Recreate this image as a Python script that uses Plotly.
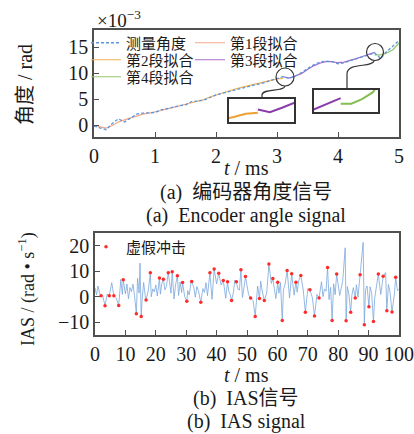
import plotly.graph_objects as go

W, H = 414, 434


def px(x, y):
    return x / W, 1 - y / H


# ---------------- (a) encoder angle (values in 1e-3 rad) ----------------
meas_t = [0.0, 0.1, 0.2, 0.3, 0.4, 0.5, 0.6, 0.7, 0.8, 0.9,
          1.0, 1.1, 1.2, 1.3, 1.4, 1.5, 1.6, 1.7, 1.8, 1.9,
          2.0, 2.1, 2.2, 2.3, 2.4, 2.5, 2.6, 2.7, 2.8, 2.9,
          3.0, 3.1, 3.2, 3.3, 3.4, 3.5, 3.6, 3.7, 3.8, 3.9,
          4.0, 4.1, 4.2, 4.3, 4.4, 4.5, 4.6, 4.7, 4.8, 4.9, 5.0]
meas_v = [-0.2, -0.5, -0.9, 0.3, 1.2, 0.6, 1.3, 2.1, 2.3, 2.3,
          2.4, 2.9, 3.2, 3.5, 3.7, 3.9, 4.5, 4.6, 4.8, 5.3,
          5.8, 6.1, 6.4, 6.7, 7.0, 7.2, 7.5, 7.9, 8.2, 8.6,
          9.0, 9.3, 9.0, 9.4, 10.1, 10.8, 11.6, 12.1, 12.3, 12.2,
          11.8, 12.0, 12.4, 12.7, 13.2, 13.6, 13.9, 12.8, 14.2, 15.2, 16.3]

seg1_t = [0.0, 0.1, 0.2, 0.3, 0.4, 0.5, 0.6, 0.7, 0.8, 0.9, 1.0, 1.1, 1.2, 1.3, 1.4, 1.5, 1.6]
seg1_v = [-0.1, -0.4, -0.6, -0.1, 0.6, 1.0, 1.4, 1.8, 2.1, 2.3, 2.5, 2.8, 3.1, 3.4, 3.7, 3.9, 4.3]
seg2_t = [1.6, 1.7, 1.8, 1.9, 2.0, 2.1, 2.2, 2.3, 2.4, 2.5, 2.6, 2.7, 2.8, 2.9, 3.0, 3.1]
seg2_v = [4.3, 4.6, 4.9, 5.4, 5.8, 6.2, 6.5, 6.9, 7.2, 7.5, 7.8, 8.1, 8.4, 8.6, 8.9, 9.0]
seg3_t = [3.1, 3.2, 3.3, 3.4, 3.5, 3.6, 3.7, 3.8, 3.9, 4.0, 4.1, 4.2, 4.3, 4.4, 4.5, 4.6]
seg3_v = [9.3, 9.05, 9.45, 9.9, 10.7, 11.4, 11.9, 12.2, 12.2, 12.0, 12.1, 12.4, 12.8, 13.2, 13.6, 14.0]
seg4_t = [4.6, 4.7, 4.8, 4.9, 5.0]
seg4_v = [13.5, 13.5, 13.9, 14.5, 15.8]

angle_xticks = [0, 1, 2, 3, 4, 5]
angle_yticks = [0, 5, 10, 15]

# ---------------- (b) IAS signal ----------------
ias_t = [i * 0.5 for i in range(201)]
ias_v = [3.5, 0.8, 4.2, 1.5, 3.0, 0.5, 4.8, 2.2, 1.0, 3.9, 0.2, 5.5, 1.8, 2.6, -0.5, 4.4, 1.2, 6.8, 0.9, 3.3,
         1.1, 5.0, -0.8, 3.6, 2.0, 4.9, 0.4, 2.8, 7.2, 1.5, 4.0, -1.2, 5.6, 0.6, 3.7, 2.2, 5.4, 0.0, 3.1, 1.9,
         4.6, 0.3, 3.8, 1.0, 5.2, -0.4, 2.7, 4.1, 0.8, 6.0, 1.4, 3.5, -0.9, 4.7, 2.1, 0.5, 5.8, 1.6, 3.0, 0.1,
         4.3, 2.4, 0.7, 5.1, 1.3, 3.6, -0.2, 4.0, 2.5, 6.3, 0.9, 3.2, 1.7, 5.5, 0.4, 2.9, 4.4, -1.0, 3.8, 1.2,
         5.0, 2.0, 0.6, 4.6, 1.8, 3.4, -0.6, 5.3, 2.2, 0.8, 4.1, 1.5, 6.5, 0.2, 3.0, 2.6, 4.8, -0.3, 3.5, 1.1,
         4.5, 0.9, 2.8, 5.7, -1.5, 3.3, 1.9, 4.2, 0.5, 6.1, 2.3, 0.0, 4.4, 1.6, 3.9, 0.7, 5.2, 2.0, 3.1, -0.7,
         4.0, 1.4, 5.6, 0.3, 2.9, 4.7, 1.0, 3.6, -0.5, 5.0, 2.4, 0.6, 4.3, 1.8, 6.2, 0.2, 3.4, 2.7, 4.9, 0.4,
         3.2, 1.5, 5.4, -0.4, 2.6, 4.1, 0.9, 3.8, 1.3, 5.9, 0.1, 3.0, 2.2, 4.6, -1.1, 3.7, 1.7, 5.1, 0.8, 2.9,
         4.4, 0.5, 3.3, 6.4, -0.8, 2.5, 4.0, 1.2, 5.3, 0.6, 3.6, 2.1, 4.7, -0.2, 3.1, 1.4, 5.8, 0.3, 2.8, 4.2,
         0.7, 3.9, 1.6, 5.0, -0.6, 3.4, 2.0, 4.5, 0.9, 6.0, 1.3, 3.7, -0.4, 4.8, 2.3, 0.5, 5.5, 1.1, 3.2, 2.4,
         3.0]

# large excursions of the signal without a marker
spike_t = [14.8, 82.3, 88.2, 95.6]
spike_v = [13.2, 19.2, 21.3, 9.5]

# false impacts (red dots)
imp_t = [2.0, 3.3, 4.7, 6.2, 7.8, 9.3, 13.6, 15.2, 16.8, 18.2, 21.2, 22.5, 24.1, 25.4, 27.1, 28.8,
         30.2, 31.8, 34.8, 37.8, 39.2, 40.7, 42.2, 43.6, 44.9, 46.5, 48.0, 49.5, 51.2, 52.7, 54.1,
         55.7, 57.2, 58.5, 60.1, 61.6, 63.2, 64.7, 66.1, 67.7, 69.2, 70.7, 72.2, 73.7, 76.5, 78.0,
         79.5, 82.6, 84.1, 85.6, 87.2, 88.6, 90.1, 91.6, 93.2, 94.8, 96.0, 97.7, 98.9]
imp_v = [0.4, -3.5, 0.4, 0.4, -3.4, 6.7, -6.7, -7.7, -1.3, 9.4, 7.4, 6.9, 9.4, 9.8, 8.2, 5.6,
         -1.8, 6.0, -2.2, 9.4, 10.9, 9.2, 6.4, 5.9, -1.5, 5.9, 10.6, 7.9, -0.5, -7.7, -0.7,
         -1.5, 12.8, 7.2, 5.7, -9.3, 10.3, 9.0, 5.7, 8.3, -6.1, 2.7, -7.5, -0.5, 11.5, -9.3,
         8.9, -9.4, -6.1, -0.5, 8.6, -11.0, -3.9, -9.7, 8.9, 8.0, -5.5, -6.0, 7.6]

ias_xticks = [0, 10, 20, 30, 40, 50, 60, 70, 80, 90, 100]
ias_yticks = [-10, 0, 10, 20]

marks = sorted(zip(imp_t + spike_t, imp_v + spike_v))
kept = [(t, v) for t, v in zip(ias_t, ias_v) if all(abs(t - m) > 0.3 for m, _ in marks)]
line_pts = sorted(kept + marks)
line_t = [p[0] for p in line_pts]
line_v = [p[1] for p in line_pts]

# ---------------- styling ----------------
FONT = "Liberation Serif, Noto Sans CJK SC, serif"
TXT = "#1a1a1a"
FRAME = "#505050"
C_MEAS = "#5a96dc"
C1 = "#f4a888"
C2 = "#f5b455"
C3 = "#a66ccb"
C4 = "#96c670"
C_IAS = "#7aa7dc"
C_RED = "#ff2a2a"

fig = go.Figure()

# main angle plot
fig.add_trace(go.Scatter(x=seg1_t, y=seg1_v, mode="lines", name="第1段拟合",
                         line=dict(color=C1, width=1.2), legend="legend2",
                         xaxis="x", yaxis="y"))
fig.add_trace(go.Scatter(x=seg2_t, y=seg2_v, mode="lines", name="第2段拟合",
                         line=dict(color=C2, width=1.2), legend="legend3",
                         xaxis="x", yaxis="y"))
fig.add_trace(go.Scatter(x=seg3_t, y=seg3_v, mode="lines", name="第3段拟合",
                         line=dict(color=C3, width=1.2), legend="legend4",
                         xaxis="x", yaxis="y"))
fig.add_trace(go.Scatter(x=seg4_t, y=seg4_v, mode="lines", name="第4段拟合",
                         line=dict(color=C4, width=1.2), legend="legend5",
                         xaxis="x", yaxis="y"))
fig.add_trace(go.Scatter(x=meas_t, y=meas_v, mode="lines", name="测量角度",
                         line=dict(color=C_MEAS, width=1.3, dash="3px,2px"), legend="legend",
                         xaxis="x", yaxis="y"))

# inset 1 (segment 2 -> 3)
fig.add_trace(go.Scatter(x=seg2_t, y=seg2_v, mode="lines", showlegend=False,
                         line=dict(color="#f0a030", width=2), xaxis="x3", yaxis="y3"))
fig.add_trace(go.Scatter(x=seg3_t, y=seg3_v, mode="lines", showlegend=False,
                         line=dict(color="#8a3caa", width=2), xaxis="x3", yaxis="y3"))
# inset 2 (segment 3 -> 4)
fig.add_trace(go.Scatter(x=seg3_t, y=seg3_v, mode="lines", showlegend=False,
                         line=dict(color="#8a3caa", width=2), xaxis="x4", yaxis="y4"))
fig.add_trace(go.Scatter(x=seg4_t, y=seg4_v, mode="lines", showlegend=False,
                         line=dict(color="#84bd50", width=2), xaxis="x4", yaxis="y4"))

# IAS plot
fig.add_trace(go.Scatter(x=line_t, y=line_v, mode="lines", showlegend=False,
                         line=dict(color=C_IAS, width=0.8), xaxis="x2", yaxis="y2"))
fig.add_trace(go.Scatter(x=imp_t, y=imp_v, mode="markers", name="虚假冲击",
                         marker=dict(color=C_RED, size=3.5), legend="legend6",
                         xaxis="x2", yaxis="y2"))

axis_common = dict(showline=True, mirror=True, linecolor=FRAME, linewidth=1.5,
                   ticks="inside", ticklen=5, tickwidth=1.2, tickcolor=FRAME,
                   showgrid=False, zeroline=False, automargin=False,
                   tickfont=dict(family=FONT, size=20, color=TXT))
inset_common = dict(showline=True, mirror=True, linecolor="#333333", linewidth=1.5,
                    ticks="", showticklabels=False, showgrid=False, zeroline=False,
                    automargin=False)

x0a, y0a = px(94, 137)
x1a, y1a = px(399, 30)
x0b, y0b = px(95, 335)
x1b, y1b = px(399, 233)
i1x0, i1y0 = px(229, 122)
i1x1, i1y1 = px(294, 99)
i2x0, i2y0 = px(314, 112)
i2x1, i2y1 = px(378, 90)

fig.update_layout(
    width=W, height=H,
    margin=dict(l=0, r=0, t=0, b=0, autoexpand=False),
    paper_bgcolor="white", plot_bgcolor="white",
    font=dict(family=FONT, color=TXT),
    xaxis=dict(domain=[x0a, x1a], anchor="y", range=[0, 5], tickvals=angle_xticks, **axis_common),
    yaxis=dict(domain=[y0a, y1a], anchor="x", range=[-2.3, 18.3], tickvals=angle_yticks, **axis_common),
    xaxis2=dict(domain=[x0b, x1b], anchor="y2", range=[0, 100], tickvals=ias_xticks, **axis_common),
    yaxis2=dict(domain=[y0b, y1b], anchor="x2", range=[-15, 25], tickvals=ias_yticks, **axis_common),
    xaxis3=dict(domain=[i1x0, i1x1], anchor="y3", range=[2.86, 3.40], **inset_common),
    yaxis3=dict(domain=[i1y0, i1y1], anchor="x3", range=[8.15, 10.25], **inset_common),
    xaxis4=dict(domain=[i2x0, i2x1], anchor="y4", range=[4.35, 4.95], **inset_common),
    yaxis4=dict(domain=[i2y0, i2y1], anchor="x4", range=[12.76, 14.72], **inset_common),
)

leg_common = dict(bgcolor="rgba(0,0,0,0)", borderwidth=0, itemwidth=30,
                  font=dict(family=FONT, size=15, color=TXT),
                  xanchor="left", yanchor="middle", orientation="v")


def leg(xp, yp):
    lx, ly = px(xp, yp)
    return dict(x=lx, y=ly, **leg_common)


fig.update_layout(
    legend=leg(86, 43),
    legend2=leg(190, 43),
    legend3=leg(86, 60),
    legend4=leg(190, 60),
    legend5=leg(86, 77),
    legend6=leg(86, 247),
)

# insets: magnifier circles and connectors
shapes = []
for cx, cy, r in [(285, 77, 9), (375, 52, 8.5)]:
    a, b = px(cx - r, cy + r)
    c, d = px(cx + r, cy - r)
    shapes.append(dict(type="circle", xref="paper", yref="paper", x0=a, y0=b, x1=c, y1=d,
                       line=dict(color="#333333", width=1.2)))


def path(pts):
    cmd = []
    for op, coords in pts:
        s = " ".join("%.5f,%.5f" % px(x, y) for x, y in coords)
        cmd.append(op + " " + s)
    return " ".join(cmd)


shapes.append(dict(type="path", xref="paper", yref="paper",
                   path=path([("M", [(285, 86)]), ("C", [(284, 92), (262, 88), (262, 95)]), ("L", [(262, 99)])]),
                   line=dict(color="#333333", width=1.2)))
shapes.append(dict(type="path", xref="paper", yref="paper",
                   path=path([("M", [(374, 61)]), ("C", [(372, 68), (347, 62), (347, 74)]), ("L", [(347, 90)])]),
                   line=dict(color="#333333", width=1.2)))
fig.update_layout(shapes=shapes)


def ann(text, xp, yp, size=20, angle=0, xanchor="center"):
    ax, ay = px(xp, yp)
    return dict(text=text, x=ax, y=ay, xref="paper", yref="paper", showarrow=False,
                xanchor=xanchor, yanchor="middle", textangle=angle,
                font=dict(family=FONT, size=size, color=TXT))


fig.update_layout(annotations=[
    ann("×10<sup>−3</sup>", 95, 19, size=19, xanchor="left"),
    ann("角度 / rad", 25, 85, angle=-90),
    ann("<i>t</i> / ms", 246, 168),
    ann("(a)  编码器角度信号", 246, 192),
    ann("(a)  Encoder angle signal", 246, 215),
    ann("IAS / (rad • s<sup>−1</sup>)", 27, 289, size=18, angle=-90),
    ann("<i>t</i> / ms", 246, 375),
    ann("(b)  IAS信号", 246, 398),
    ann("(b)  IAS signal", 246, 421),
])

fig.write_html("out.html", config={"displayModeBar": False},
               post_script="document.body.style.margin='0';")
